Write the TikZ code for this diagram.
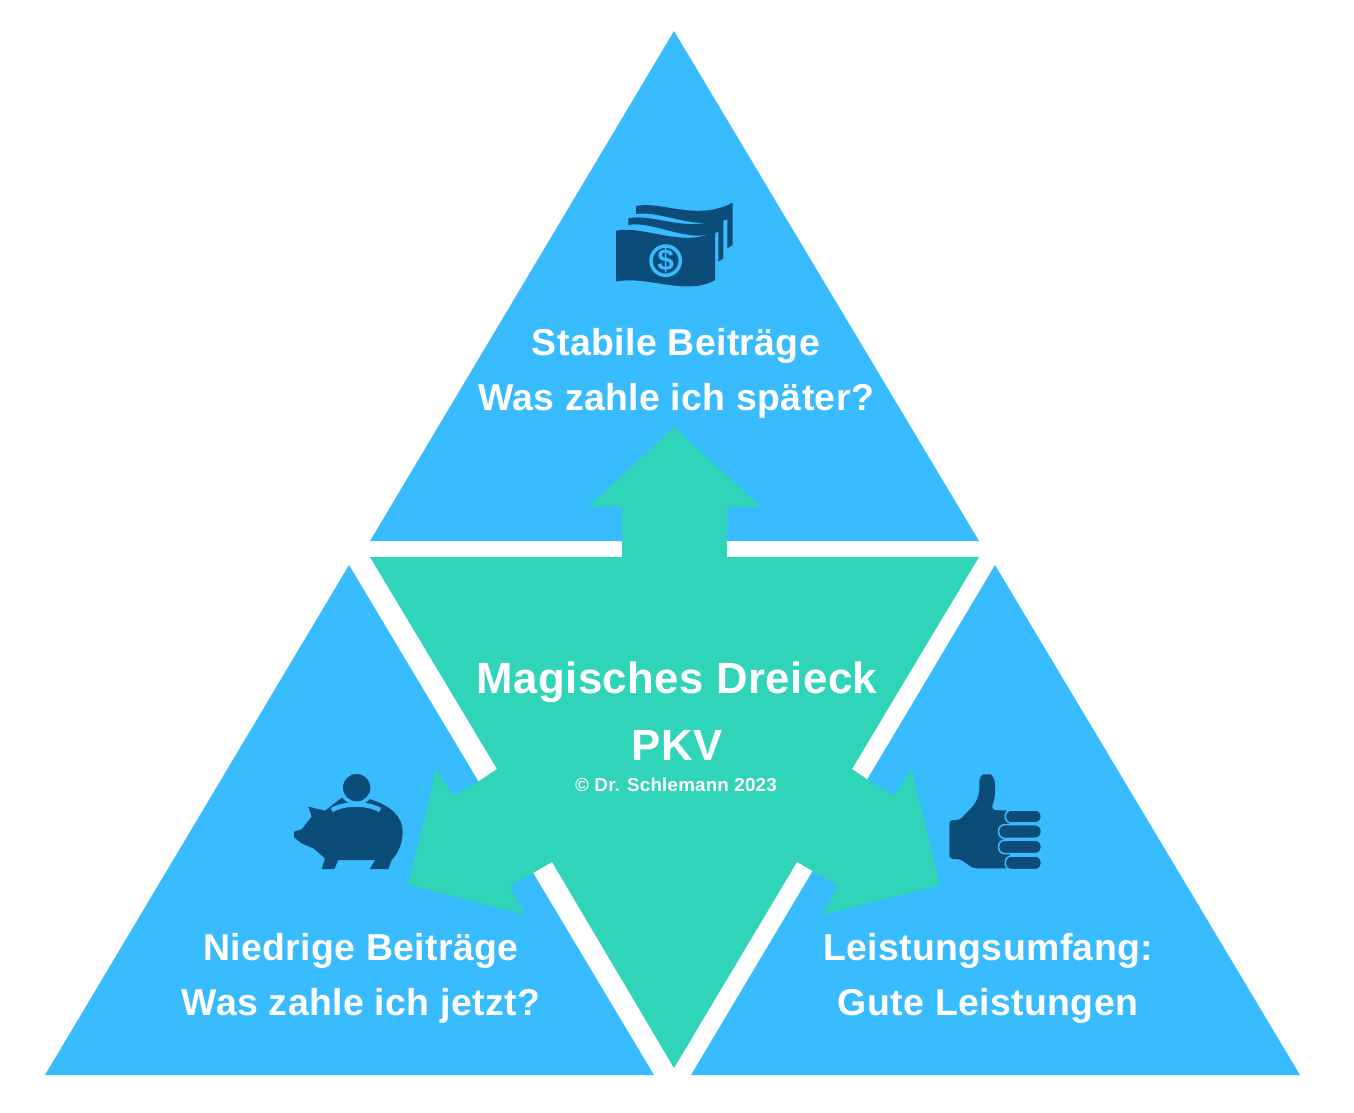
\documentclass[tikz,border=0pt]{standalone}
\usepackage{fontspec}
\setmainfont{Liberation Sans}
\newfontfamily\spaced[LetterSpace=1]{Liberation Sans}
\definecolor{skyblue}{HTML}{38BBFF}
\definecolor{mint}{HTML}{30D4B8}
\definecolor{darkblue}{HTML}{0B4C78}
\begin{document}
\begin{tikzpicture}[x=0.02cm, y=-0.02cm]

\tikzstyle{corner} = [fill=skyblue]
\tikzstyle{middle} = [fill=mint]
\tikzstyle{icon} = [fill=darkblue]
\tikzstyle{slot} = [draw=skyblue, line width=2.6pt]
\tikzstyle{finger} = [fill=darkblue, draw=skyblue, line width=0.9pt, rounded corners=3.4pt]
\tikzstyle{label} = [text=white, align=center, font=\spaced\bfseries\fontsize{21.3}{31.3}\selectfont]
\tikzstyle{title} = [text=white, align=center, font=\spaced\bfseries\fontsize{24.9}{30}\selectfont]

\useasboundingbox (0,0) rectangle (1354,1112);

% triangles
\fill [corner] (674,31) -- (979,541) -- (370,541) -- cycle;
\fill [corner] (349,565) -- (654,1075) -- (45,1075) -- cycle;
\fill [corner] (995,565) -- (1300,1075) -- (691,1075) -- cycle;

% middle with the three arrows
\fill [middle] (370,557) -- (622,557) -- (622,507) -- (588,507) -- (674,427) -- (761,507) -- (727,507) -- (727,557) -- (979,557)
  -- (852,769) -- (870,781) -- (894,795) -- (912,769) -- (940,885) -- (822,915) -- (838,886) -- (816,873) -- (797,862)
  -- (674,1068) -- (552,862) -- (533,873) -- (510,886) -- (525,915) -- (408,885) -- (436,769) -- (454,795) -- (479,781) -- (497,769) -- cycle;

% money
\begin{scope}[shift={(590,180)}, x=0.00667cm, y=-0.00667cm]
\fill [icon] (138,78) .. controls (215,62) and (320,125) .. (428,68) -- (428,195) -- (412,205) -- (412,118) .. controls (320,155) and (215,90) .. (138,102) -- cycle;
\fill [icon] (115,115) .. controls (190,98) and (300,165) .. (400,110) -- (400,235) -- (385,245) -- (385,155) .. controls (300,195) and (190,120) .. (115,135) -- cycle;
\fill [icon] (78,152) .. controls (160,135) and (280,205) .. (375,155) -- (375,300) .. controls (290,350) and (170,285) .. (78,305) -- cycle;
\draw [draw=skyblue, line width=2pt] (227,242) circle (44);
\node (dollar) [text=skyblue, font=\bfseries\fontsize{17}{17}\selectfont] at (227,242) {\$};
\end{scope}

% piggy bank
\begin{scope}[shift={(280,760)}, x=0.00667cm, y=-0.00667cm]
\fill [icon] (42,215) -- (65,208) -- (95,170) -- (85,140) -- (135,152) -- (187,112) -- (230,105) -- (270,118)
  .. controls (330,135) and (368,170) .. (368,215) .. controls (368,255) and (350,285) .. (335,300) -- (325,327) -- (270,327) -- (285,300)
  -- (175,300) -- (163,327) -- (125,327) -- (135,295) -- (100,265) -- (65,250) -- (42,232) -- cycle;
\draw [slot] (155,150) .. controls (195,128) and (260,128) .. (300,150);
\fill [fill=skyblue] (230,83) circle (52);
\fill [icon] (230,83) circle (41);
\end{scope}

% thumb
\begin{scope}[shift={(930,760)}, x=0.00667cm, y=-0.00667cm]
\fill [icon, rounded corners=2pt] (58,180) -- (90,180) .. controls (115,150) and (148,130) .. (148,75) .. controls (148,50) and (160,43) .. (170,43) .. controls (185,43) and (197,60) .. (195,90) .. controls (195,115) and (187,135) .. (185,150) -- (240,152) -- (240,325) -- (130,325) -- (90,297) -- (58,297) -- cycle;
\draw [finger] (226,150) rectangle (334,189);
\draw [finger] (206,194) rectangle (334,235);
\draw [finger] (206,240) rectangle (334,281);
\draw [finger] (226,288) rectangle (334,329);
\end{scope}

\node (stable) [label] at (676,373) {Stabile Beiträge\\Was zahle ich später?};
\node (low) [label] at (361,978) {Niedrige Beiträge\\Was zahle ich jetzt?};
\node (scope) [label] at (988,978) {Leistungsumfang:\\Gute Leistungen};
\node (magic) [title] at (677,682) {Magisches Dreieck};
\node (pkv) [title] at (677,745) {PKV};
\node (copy) [text=white, font=\spaced\bfseries\fontsize{10.7}{12}\selectfont] at (676,785) {© Dr. Schlemann 2023};
\end{tikzpicture}
\end{document}
